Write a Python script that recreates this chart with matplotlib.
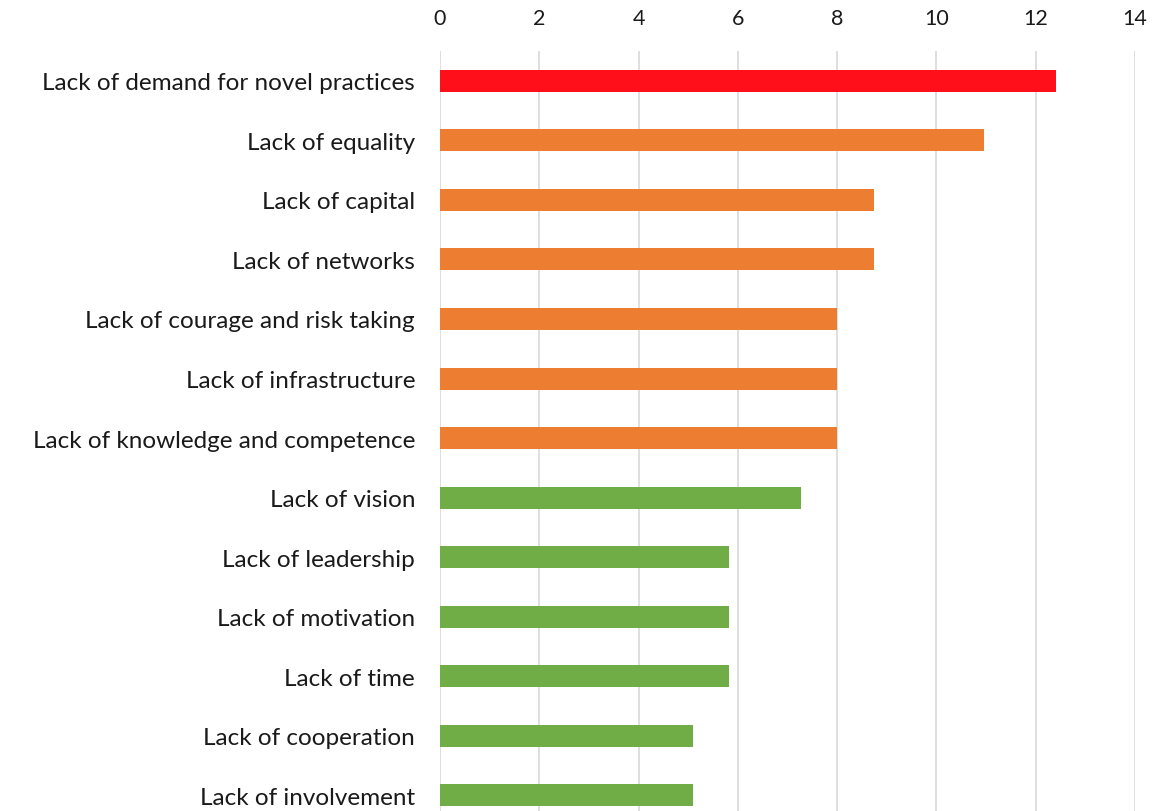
import matplotlib.pyplot as plt
import matplotlib as mpl

mpl.rcParams['font.family'] = ['Lato', 'DejaVu Sans']

barriers = ['Lack of demand for novel practices', 'Lack of equality',
            'Lack of capital', 'Lack of networks',
            'Lack of courage and risk taking', 'Lack of infrastructure',
            'Lack of knowledge and competence', 'Lack of vision',
            'Lack of leadership', 'Lack of motivation', 'Lack of time',
            'Lack of cooperation', 'Lack of involvement']
values = [12.4, 10.95, 8.75, 8.75, 8.0, 8.0, 8.0, 7.27, 5.82, 5.82, 5.82,
          5.09, 5.09]
groups = ['high', 'mid', 'mid', 'mid', 'mid', 'mid', 'mid',
          'low', 'low', 'low', 'low', 'low', 'low']
group_colors = {'high': '#FF0F1A', 'mid': '#ED7D31', 'low': '#70AD47'}

fig = plt.figure(figsize=(11.66, 8.12), dpi=100)
# the original is cropped at the bottom, so the axes runs past the figure edge
ax = fig.add_axes([0.3774, -0.0172, 0.596, 0.953])

ypos = list(range(len(barriers)))
ax.barh(ypos, values, height=0.37,
        color=[group_colors[g] for g in groups], zorder=3)

ax.set_ylim(len(barriers) - 0.5, -0.5)
ax.set_xlim(0, 14)
ax.set_xticks(range(0, 15, 2))
ax.xaxis.tick_top()
ax.set_yticks(ypos)
ax.set_yticklabels(barriers)
ax.tick_params(axis='x', length=0, pad=17, labelsize=15.5, colors='#1a1a1a')
ax.tick_params(axis='y', length=0, pad=18, labelsize=17.5, colors='#1a1a1a')
ax.grid(axis='x', color='#D9D9D9', linewidth=1.2, zorder=0)
for s in ax.spines.values():
    s.set_visible(False)

fig.savefig('out.png', dpi=100)
